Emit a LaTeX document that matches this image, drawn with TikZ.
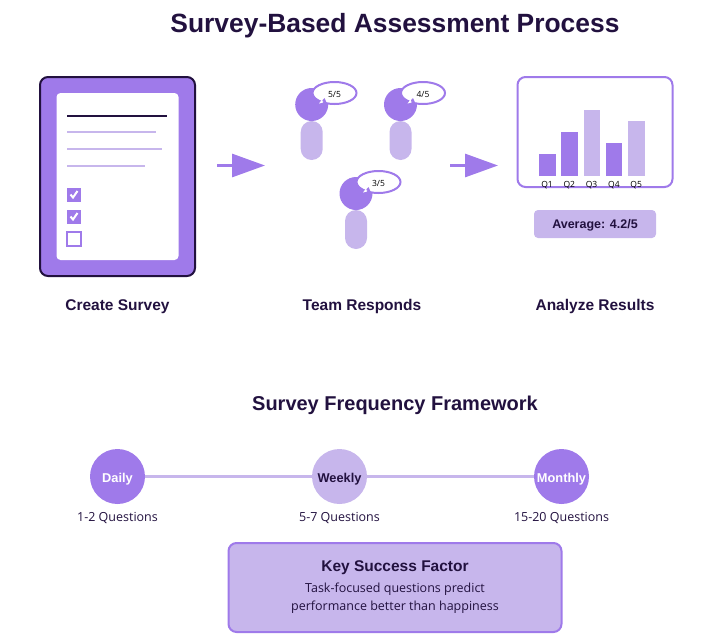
\documentclass[tikz,border=0pt]{standalone}
\usepackage{fontspec}
\setmainfont{Liberation Sans}
\newfontfamily\smallfont{Open Sans}
\usetikzlibrary{arrows.meta,shapes.geometric}
\definecolor{purplemain}{HTML}{9F7AEA}
\definecolor{purplelight}{HTML}{C7B6EC}
\definecolor{darkink}{HTML}{22113F}
\begin{document}
\begin{tikzpicture}[x=1pt,y=-1pt]
\tikzstyle{sheet line}=[draw=purplelight,line width=2pt]
\tikzstyle{check mark}=[draw=white,line width=2pt]
\tikzstyle{flow arrow}=[draw=purplemain,line width=3pt,-{Triangle[length=33pt,width=23pt,fill=purplemain]}]
\tikzstyle{tail edge}=[fill=purplemain]
\tikzstyle{tail gap}=[fill=white]
\tikzset{
	base node/.style={inner sep=0,outer sep=0},
	heading/.style={base node,text=darkink,font=\bfseries\fontsize{15.5}{19}\selectfont},
	small text/.style={base node,text=darkink,align=center,font=\smallfont\fontsize{12.5}{17.7}\selectfont},
	check box/.style={base node,rectangle,fill=purplemain,minimum size=14pt},
	head/.style={base node,circle,fill=purplemain,minimum size=33pt},
	body/.style={base node,rectangle,fill=purplelight,rounded corners=11pt,minimum width=22pt,minimum height=39pt},
	bubble/.style={base node,ellipse,draw=purplemain,fill=white,line width=2pt,minimum width=44pt,minimum height=22pt,text=black,text height=8.5pt,text depth=0pt,font=\smallfont\fontsize{8.5}{10}\selectfont},
	bar/.style={base node,rectangle,anchor=south,minimum width=16.5pt},
	bar label/.style={base node,text=black,font=\smallfont\fontsize{8.5}{10}\selectfont},
	step circle/.style={base node,circle,minimum size=55pt,text height=11pt,text depth=0pt,font=\bfseries\fontsize{12.8}{14}\selectfont}
}
\useasboundingbox (0,0) rectangle (722,640);
\node[heading,font=\bfseries\fontsize{26.4}{32}\selectfont] (title) at (395,26) {Survey-Based Assessment Process};
\node[base node,rectangle,draw=darkink,fill=purplemain,line width=2pt,rounded corners=8pt,minimum width=155pt,minimum height=199pt] (board) at (117.5,176.5) {};
\node[base node,rectangle,fill=white,rounded corners=4pt,minimum width=122pt,minimum height=167pt] (sheet) at (117.5,176.5) {};
\draw[draw=darkink,line width=2pt] (67,115.5) -- (167,115.5);
\draw[sheet line] (67,132) -- (156,132);
\draw[sheet line] (67,149) -- (162,149);
\draw[sheet line] (67,165.5) -- (145,165.5);
\node[check box] (boxa) at (74,194.5) {};
\draw[check mark] (70.5,194.5) -- (73,197.5) -- (77.5,191);
\node[check box] (boxb) at (74,216.5) {};
\draw[check mark] (70.5,216.5) -- (73,219.5) -- (77.5,213);
\node[base node,rectangle,draw=purplemain,fill=white,line width=2pt,minimum size=14pt] (boxc) at (74,239) {};
\node[heading] (create) at (117.5,306.5) {Create Survey};
\coordinate (flowa start) at (217,165.5);
\coordinate (flowa end) at (265,165.5);
\draw[flow arrow] (flowa start) -- (flowa end);
\node[body] (bodya) at (311.7,140.5) {};
\node[head] (heada) at (311.7,104.5) {};
\node[bubble] (bubblea) at (334.5,93) {5/5};
\fill[tail edge] ([shift={(-13,8)}]bubblea.center) -- ([shift={(-10,5)}]bubblea.center) -- ([shift={(-8,9.5)}]bubblea.center) -- cycle;
\fill[tail gap] ([shift={(-15.5,10.5)}]bubblea.center) -- ([shift={(-12.5,6.5)}]bubblea.center) -- ([shift={(-11.5,9.5)}]bubblea.center) -- cycle;
\node[body] (bodyb) at (400.5,140.5) {};
\node[head] (headb) at (400.5,104.5) {};
\node[bubble] (bubbleb) at (423,93) {4/5};
\fill[tail edge] ([shift={(-13,8)}]bubbleb.center) -- ([shift={(-10,5)}]bubbleb.center) -- ([shift={(-8,9.5)}]bubbleb.center) -- cycle;
\fill[tail gap] ([shift={(-15.5,10.5)}]bubbleb.center) -- ([shift={(-12.5,6.5)}]bubbleb.center) -- ([shift={(-11.5,9.5)}]bubbleb.center) -- cycle;
\node[body] (bodyc) at (356,229.5) {};
\node[head] (headc) at (356,193.5) {};
\node[bubble] (bubblec) at (378.5,182) {3/5};
\fill[tail edge] ([shift={(-13,8)}]bubblec.center) -- ([shift={(-10,5)}]bubblec.center) -- ([shift={(-8,9.5)}]bubblec.center) -- cycle;
\fill[tail gap] ([shift={(-15.5,10.5)}]bubblec.center) -- ([shift={(-12.5,6.5)}]bubblec.center) -- ([shift={(-11.5,9.5)}]bubblec.center) -- cycle;
\node[heading] (team) at (362,306.5) {Team Responds};
\coordinate (flowb start) at (450,165.5);
\coordinate (flowb end) at (498,165.5);
\draw[flow arrow] (flowb start) -- (flowb end);
\node[base node,rectangle,draw=purplemain,line width=2pt,rounded corners=8pt,minimum width=155pt,minimum height=110pt] (chart) at (595,132) {};
\node[bar,fill=purplemain,minimum height=22pt] (bara) at (547.5,176) {};
\node[bar,fill=purplemain,minimum height=44pt] (barb) at (569.7,176) {};
\node[bar,fill=purplelight,minimum height=66pt] (barc) at (592,176) {};
\node[bar,fill=purplemain,minimum height=33pt] (bard) at (614.2,176) {};
\node[bar,fill=purplelight,minimum height=55pt] (bare) at (636.5,176) {};
\node[bar label] (qa) at (547,185.5) {Q1};
\node[bar label] (qb) at (569.3,185.5) {Q2};
\node[bar label] (qc) at (591.6,185.5) {Q3};
\node[bar label] (qd) at (613.9,185.5) {Q4};
\node[bar label] (qe) at (636.2,185.5) {Q5};
\node[base node,rectangle,fill=purplelight,rounded corners=4pt,minimum width=122pt,minimum height=28pt,text=darkink,text height=9pt,text depth=0pt,font=\bfseries\fontsize{12.5}{14}\selectfont] (average) at (595,224) {Average: 4.2/5};
\node[heading] (analyze) at (595,306.5) {Analyze Results};
\node[heading,font=\bfseries\fontsize{20}{24}\selectfont] (framework) at (395,405) {Survey Frequency Framework};
\node[step circle,fill=purplemain,text=white] (daily) at (117.5,476.5) {Daily};
\node[step circle,fill=purplelight,text=darkink] (weekly) at (339.5,476.5) {Weekly};
\node[step circle,fill=purplemain,text=white] (monthly) at (561.5,476.5) {Monthly};
\draw[draw=purplelight,line width=3pt] (daily) -- (weekly);
\draw[draw=purplelight,line width=3pt] (weekly) -- (monthly);
\node[small text] (dailyq) at (117.5,517.5) {1-2 Questions};
\node[small text] (weeklyq) at (339.5,517.5) {5-7 Questions};
\node[small text] (monthlyq) at (561.5,517.5) {15-20 Questions};
\node[base node,rectangle,draw=purplemain,fill=purplelight,line width=2pt,rounded corners=8pt,minimum width=333pt,minimum height=89pt] (factor) at (395,587.5) {};
\node[heading] (factortitle) at (395,567.5) {Key Success Factor};
\node[small text] (factortext) at (395,598.5) {Task-focused questions predict\\performance better than happiness};
\end{tikzpicture}
\end{document}
